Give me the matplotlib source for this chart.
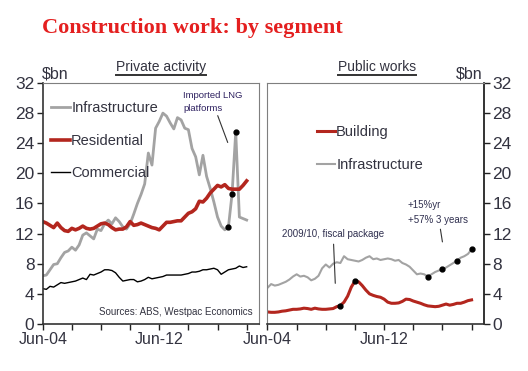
import numpy as np
import matplotlib
matplotlib.use('Agg')
from matplotlib import pyplot as plt
from matplotlib.lines import Line2D

plt.rcParams['font.family'] = ['Liberation Sans', 'DejaVu Sans']

# quarterly data, Jun-04 .. Jun-18 ($bn)
priv_infra = [6.4, 6.5, 7.2, 7.9, 8.0, 8.8, 9.5, 9.7, 10.2, 9.8,
              10.5, 11.8, 12.1, 11.7, 11.3, 12.6, 12.4, 13.3, 13.8, 13.3,
              14.1, 13.6, 12.9, 12.6, 13.3, 14.6, 16.0, 17.2, 18.6, 22.7,
              21.1, 26.0, 26.9, 28.0, 27.6, 26.7, 25.9, 27.4, 27.1, 26.0,
              25.8, 23.3, 22.2, 19.8, 22.4, 19.6, 18.0, 16.2, 14.2, 13.0,
              12.5, 12.9, 17.3, 25.5, 14.2, 14.0, 13.8]
priv_resi = [13.6, 13.4, 13.1, 12.8, 13.4, 12.8, 12.4, 12.3, 12.7, 12.5,
             12.7, 13.0, 12.7, 12.6, 12.7, 13.0, 13.3, 13.4, 13.2, 12.8,
             12.5, 12.6, 12.6, 12.9, 13.6, 13.1, 13.2, 13.4, 13.2, 13.0,
             12.8, 12.7, 12.5, 13.0, 13.5, 13.5, 13.6, 13.7, 13.7, 14.2,
             14.7, 14.9, 15.3, 16.3, 16.2, 16.7, 17.4, 17.9, 18.4, 18.2,
             18.5, 18.0, 17.9, 17.9, 17.9, 18.4, 19.0]
priv_comm = [4.7, 4.6, 5.0, 4.9, 5.2, 5.5, 5.4, 5.5, 5.6, 5.7,
             5.9, 6.1, 5.9, 6.6, 6.5, 6.7, 6.9, 7.2, 7.2, 7.1,
             6.8, 6.2, 5.7, 5.8, 5.9, 5.9, 5.6, 5.7, 5.9, 6.2,
             6.0, 6.1, 6.2, 6.3, 6.5, 6.5, 6.5, 6.5, 6.5, 6.6,
             6.7, 6.9, 6.9, 7.0, 7.2, 7.2, 7.3, 7.4, 7.2, 6.6,
             6.9, 7.2, 7.3, 7.4, 7.7, 7.5, 7.6]
pub_build = [1.6, 1.55, 1.55, 1.6, 1.7, 1.75, 1.85, 1.95, 1.95, 2.0,
             2.1, 2.05, 1.95, 2.1, 2.0, 1.95, 1.95, 2.0, 2.05, 2.3,
             2.45, 2.9, 3.7, 4.9, 5.7, 5.6, 5.1, 4.5, 4.0, 3.8,
             3.65, 3.55, 3.3, 2.9, 2.75, 2.75, 2.8, 3.0, 3.3, 3.25,
             3.05, 2.9, 2.75, 2.55, 2.4, 2.35, 2.3, 2.35, 2.5, 2.65,
             2.5, 2.6, 2.75, 2.75, 2.9, 3.1, 3.2]
pub_infra = [4.8, 5.3, 5.1, 5.2, 5.4, 5.6, 5.9, 6.3, 6.6, 6.3,
             6.4, 6.2, 5.8, 6.0, 6.4, 7.4, 7.9, 7.5, 8.0, 8.2,
             8.1, 9.0, 8.6, 8.5, 8.4, 8.3, 8.5, 8.8, 9.0, 8.6,
             8.7, 8.5, 8.6, 8.7, 8.6, 8.4, 8.5, 8.1, 7.9, 7.6,
             7.1, 6.6, 6.7, 6.6, 6.3, 6.6, 6.9, 7.1, 7.25, 7.5,
             7.8, 8.1, 8.4, 8.8, 9.0, 9.3, 9.9]

# highlighted quarters (index into the series)
priv_dots = [51, 52, 53]
build_dots = [20, 24]
pub_dots = [44, 48, 52, 56]

yticks = [0, 4, 8, 12, 16, 20, 24, 28, 32]
xtick_labels = ['Jun-04', '', '', '', 'Jun-12', '', '', '']

grey = '#a3a3a3'
red = '#b3261e'
txt = '#333340'

x = np.arange(len(priv_infra))
xt = np.arange(0, 57, 8)

fig = plt.figure(figsize=(5.28, 3.71), dpi=100)
ax1 = fig.add_axes([0.0809, 0.1267, 0.4097, 0.6496])
ax2 = fig.add_axes([0.5066, 0.1267, 0.4100, 0.6496])

for ax in (ax1, ax2):
    ax.set_xlim(0, 59.4)
    ax.set_ylim(0, 32)
    ax.set_yticks(yticks)
    ax.set_xticks(xt)
    ax.set_xticklabels(xtick_labels)
    ax.tick_params(axis='both', direction='out', length=4, width=1,
                   colors='#222222', labelcolor=txt, pad=2)
    ax.tick_params(axis='x', labelsize=11.5)
    ax.tick_params(axis='y', labelsize=12.5)
    for s in ax.spines.values():
        s.set_color('#7f7f7f')
        s.set_linewidth(0.8)
    ax.spines['bottom'].set_color('#333333')
    ax.spines['bottom'].set_linewidth(1.2)

ax1.spines['left'].set_color('#333333')
ax1.spines['left'].set_linewidth(1.2)
ax2.spines['right'].set_color('#111111')
ax2.spines['right'].set_linewidth(1.2)
ax2.yaxis.tick_right()

# private
ax1.plot(x, priv_infra, color=grey, lw=2, label='Infrastructure')
ax1.plot(x, priv_resi, color=red, lw=2.6, label='Residential')
ax1.plot(x, priv_comm, color='black', lw=1, label='Commercial')
ax1.plot(priv_dots, [priv_infra[i] for i in priv_dots], 'o', color='black', ms=3.5)
ax1.legend(loc='upper left', bbox_to_anchor=(0.0, 0.96), frameon=False,
           fontsize=10.5, handlelength=1.3, handletextpad=0.05,
           labelspacing=1.25, labelcolor=txt, borderaxespad=0.2)
ax1.annotate('Imported LNG\nplatforms', xy=(50.8, 24.1), xytext=(38.5, 28.3),
             fontsize=6.8, color='#2e2160', linespacing=1.5,
             arrowprops=dict(arrowstyle='-', color='#333333', lw=0.8,
                             shrinkA=0, shrinkB=0))
ax1.text(0.97, 0.03, 'Sources: ABS, Westpac Economics', transform=ax1.transAxes,
         ha='right', va='bottom', fontsize=7, color=txt)

# public
ax2.plot(x, pub_build, color=red, lw=2.2, label='Building')
ax2.plot(x, pub_infra, color=grey, lw=1.5, label='Infrastructure')
ax2.plot(build_dots, [pub_build[i] for i in build_dots], 'o', color='black', ms=3.5)
ax2.plot(pub_dots, [pub_infra[i] for i in pub_dots], 'o', color='black', ms=3.5)
ax2.legend(loc='upper left', bbox_to_anchor=(0.186, 0.86), frameon=False,
           fontsize=10.5, handlelength=1.3, handletextpad=0.05,
           labelspacing=1.25, labelcolor=txt, borderaxespad=0.2)
ax2.annotate('2009/10, fiscal package', xy=(18.6, 5.4), xytext=(4, 11.6),
             fontsize=7, color='#2f2f4f',
             arrowprops=dict(arrowstyle='-', color='#333333', lw=0.8,
                             shrinkA=2, shrinkB=0))
ax2.annotate('+15%yr\n+57% 3 years', xy=(48, 10.9), xytext=(38.5, 13.4),
             fontsize=7, color='#2f2f4f', linespacing=1.6,
             arrowprops=dict(arrowstyle='-', color='#333333', lw=0.8,
                             shrinkA=1, shrinkB=0))

# headings
fig.text(42 / 528, 1 - 33 / 371, 'Construction work: by segment',
         family='Liberation Serif', weight='bold', fontsize=16,
         color='#e41f1f', va='baseline')
fig.text(42 / 528, 1 - 78 / 371, '$bn', fontsize=11.5, color=txt, va='baseline')
fig.text(483 / 528, 1 - 78 / 371, '$bn', fontsize=11.5, color=txt, va='baseline',
         ha='right')
h1 = fig.text(161 / 528, 1 - 71 / 371, 'Private activity', fontsize=10,
              color=txt, ha='center', va='baseline')
h2 = fig.text(377 / 528, 1 - 71 / 371, 'Public works', fontsize=10,
              color=txt, ha='center', va='baseline')

fig.canvas.draw()
inv = fig.transFigure.inverted()
for h in (h1, h2):
    bb = h.get_window_extent()
    (x0, y0), (x1, _) = inv.transform([(bb.x0, bb.y0), (bb.x1, bb.y1)])
    fig.add_artist(Line2D([x0, x1], [y0 - 0.004, y0 - 0.004], color='#333333',
                          lw=1.4, transform=fig.transFigure))

fig.savefig('out.png', dpi=100)
